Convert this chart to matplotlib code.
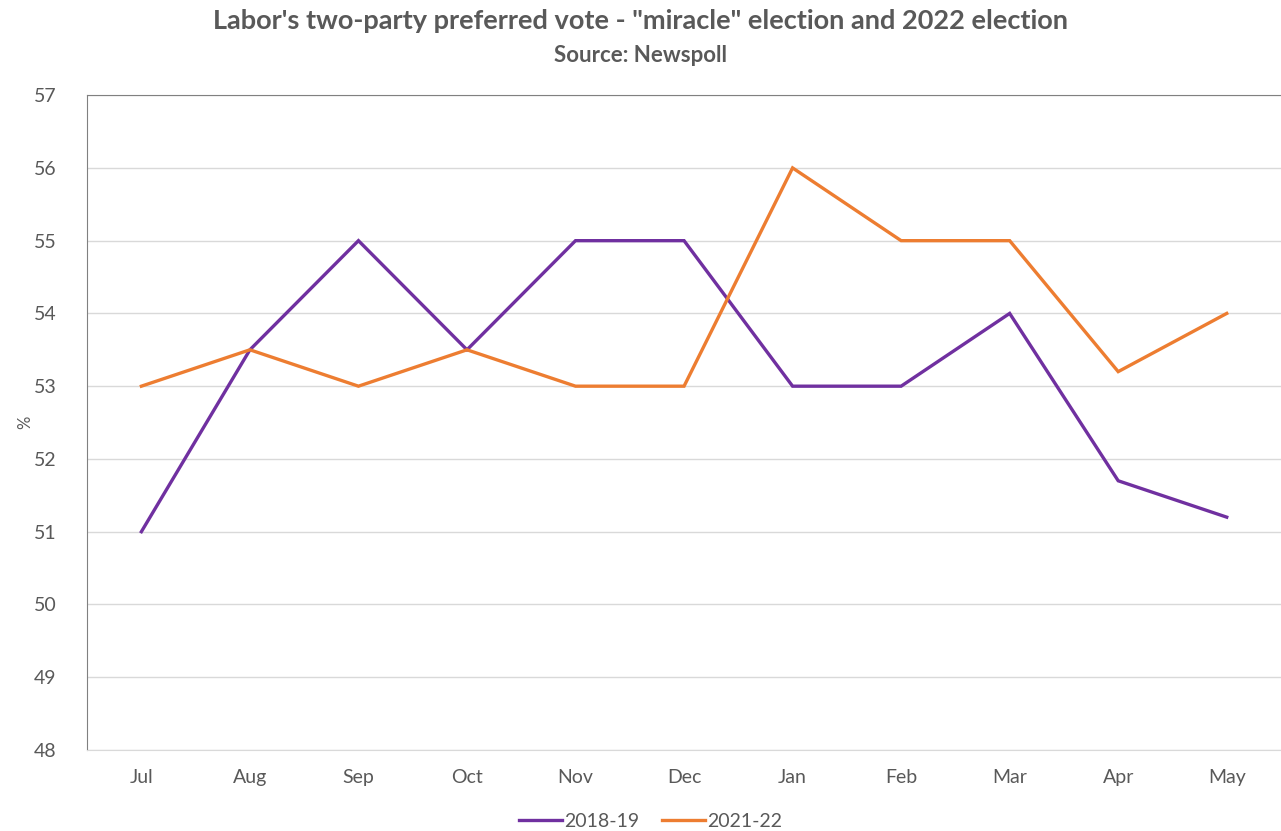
import matplotlib
matplotlib.use("Agg")
from matplotlib import pyplot as plt
import numpy as np

months = ['Jul', 'Aug', 'Sep', 'Oct', 'Nov', 'Dec', 'Jan', 'Feb', 'Mar', 'Apr', 'May']
vote_2018_19 = [51, 53.5, 55, 53.5, 55, 55, 53, 53, 54, 51.7, 51.2]
vote_2021_22 = [53, 53.5, 53, 53.5, 53, 53, 56, 55, 55, 53.2, 54]
y_ticks = list(range(48, 58))

plt.rcParams['font.family'] = ['Lato', 'DejaVu Sans']

fig = plt.figure(figsize=(12.81, 8.31), dpi=100)
ax = fig.add_axes([0.068, 0.0975, 0.932, 0.788])

x = np.arange(len(months))
ax.plot(x, vote_2018_19, color='#7030A0', lw=2.4, label='2018-19', solid_joinstyle='miter')
ax.plot(x, vote_2021_22, color='#ED7D31', lw=2.4, label='2021-22', solid_joinstyle='miter')

ax.set_xlim(-0.5, len(months) - 0.5)
ax.set_ylim(48, 57)
ax.set_yticks(y_ticks)
ax.set_xticks(x)
ax.set_xticklabels(months)
ax.grid(axis='y', color='#d9d9d9', lw=1)
ax.set_axisbelow(True)

ax.spines['right'].set_visible(False)
ax.spines['top'].set_color('#808080')
ax.spines['left'].set_color('#808080')
ax.spines['bottom'].set_color('#d9d9d9')
ax.tick_params(length=0, labelsize=14, colors='#595959', pad=14)
ax.tick_params(axis='y', pad=22)

# y-axis unit label, placed by hand to keep it inside the figure
fig.text(0.02, 0.492, '%', rotation=90, ha='center', va='center',
         fontsize=12, color='#595959')

fig.text(0.5, 0.975, 'Labor\'s two-party preferred vote - "miracle" election and 2022 election',
         ha='center', va='center', fontsize=19.5, fontweight='bold', color='#595959')
fig.text(0.5, 0.933, 'Source: Newspoll', ha='center', va='center',
         fontsize=16, fontweight='bold', color='#595959')

fig.legend(loc='center', bbox_to_anchor=(0.508, 0.012), ncol=2, frameon=False,
           fontsize=14, handlelength=2.2, handletextpad=0.1, columnspacing=1.2,
           labelcolor='#595959')

fig.savefig('out.png', dpi=100)
